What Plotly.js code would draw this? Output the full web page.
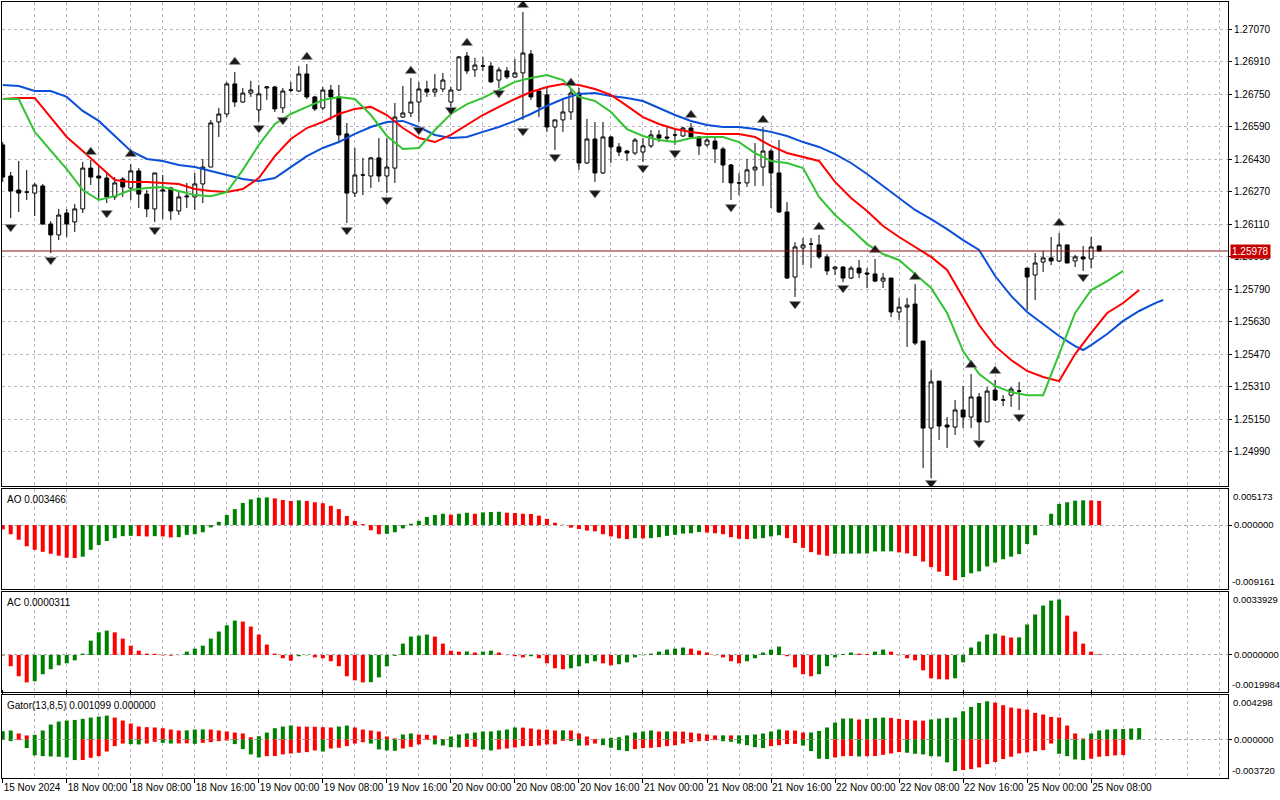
<!DOCTYPE html>
<html>
<head>
<meta charset="utf-8">
<script src="https://cdn.plot.ly/plotly-3.0.1.min.js"></script>
<style>html,body{margin:0;padding:0;background:#fff;}#chart{width:1280px;height:800px;}</style>
</head>
<body>
<div id="chart"></div>
<script>
// ---------- DATA ----------
const tickIdx = [0,8,16,24,32,40,48,56,64,72,80,88,96,104,112,120,128,136];
const tickLabels = ["15 Nov 2024","18 Nov 00:00","18 Nov 08:00","18 Nov 16:00","19 Nov 00:00","19 Nov 08:00","19 Nov 16:00","20 Nov 00:00","20 Nov 08:00","20 Nov 16:00","21 Nov 00:00","21 Nov 08:00","21 Nov 16:00","22 Nov 00:00","22 Nov 08:00","22 Nov 16:00","25 Nov 00:00","25 Nov 08:00"];
const priceTicks = [1.24990,1.25150,1.25310,1.25470,1.25630,1.25790,1.25950,1.26110,1.26270,1.26430,1.26590,1.26750,1.26910,1.27070];
const priceRange = [1.24822, 1.27203];
const lastPrice = 1.25978;

const open = [
1.26500,1.26347,1.26278,1.26268,1.26263,1.26298,1.26111,1.26057,1.26165,1.26121,
1.26185,1.26386,1.26347,1.26337,1.26244,1.26332,1.26288,1.26372,1.26258,1.26185,
1.26273,1.26288,1.26175,1.26244,1.26244,1.26308,1.26391,1.26613,1.26652,1.26800,
1.26711,1.26755,1.26672,1.26780,1.26785,1.26682,1.26770,1.26765,1.26849,1.26736,
1.26682,1.26770,1.26736,1.26554,1.26263,1.26352,1.26347,1.26436,1.26347,1.26386,
1.26637,1.26657,1.26711,1.26775,1.26760,1.26775,1.26711,1.26770,1.26937,1.26869,
1.26888,1.26888,1.26819,1.26864,1.26834,1.26854,1.26947,1.26765,1.26746,1.26588,
1.26623,1.26662,1.26755,1.26411,1.26529,1.26362,1.26539,1.26490,1.26470,1.26460,
1.26465,1.26495,1.26549,1.26539,1.26549,1.26544,1.26583,1.26539,1.26500,1.26519,
1.26480,1.26401,1.26313,1.26313,1.26377,1.26391,1.26470,1.26362,1.26170,1.25850,
1.25993,1.26012,1.26008,1.25949,1.25890,1.25899,1.25845,1.25894,1.25870,1.25865,
1.25830,1.25845,1.25678,1.25702,1.25717,1.25535,1.25107,1.25338,1.25122,1.25112,
1.25196,1.25161,1.25260,1.25137,1.25294,1.25245,1.25269,1.25289,1.25894,1.25860,
1.25924,1.25944,1.25929,1.26008,1.25929,1.25949,1.25939,1.26003];
const high = [
1.26514,1.26367,1.26421,1.26377,1.26313,1.26308,1.26125,1.26185,1.26185,1.26209,
1.26416,1.26426,1.26401,1.26367,1.26342,1.26342,1.26406,1.26386,1.26278,1.26362,
1.26352,1.26293,1.26268,1.26313,1.26362,1.26431,1.26623,1.26682,1.26810,1.26859,
1.26780,1.26815,1.26795,1.26790,1.26790,1.26780,1.26810,1.26888,1.26898,1.26741,
1.26785,1.26795,1.26795,1.26608,1.26485,1.26436,1.26441,1.26534,1.26534,1.26706,
1.26790,1.26829,1.26810,1.26815,1.26849,1.26854,1.26785,1.26937,1.26957,1.26928,
1.26933,1.26908,1.26883,1.26883,1.26923,1.27154,1.26967,1.26775,1.26785,1.26623,
1.26731,1.26780,1.26780,1.26628,1.26613,1.26613,1.26544,1.26509,1.26475,1.26534,
1.26534,1.26573,1.26573,1.26588,1.26573,1.26588,1.26608,1.26544,1.26539,1.26534,
1.26490,1.26406,1.26362,1.26431,1.26509,1.26588,1.26480,1.26524,1.26219,1.26022,
1.26042,1.26042,1.26057,1.25963,1.25904,1.25904,1.25904,1.25934,1.25894,1.25939,
1.25870,1.25845,1.25747,1.25747,1.25816,1.25535,1.25393,1.25338,1.25161,1.25245,
1.25314,1.25373,1.25279,1.25309,1.25343,1.25269,1.25309,1.25334,1.25894,1.25968,
1.25978,1.26047,1.26067,1.26008,1.25959,1.26003,1.26047,1.26003];
const low = [
1.26318,1.26140,1.26170,1.26229,1.26150,1.26106,1.25968,1.26032,1.26047,1.26072,
1.26165,1.26303,1.26234,1.26214,1.26229,1.26244,1.26229,1.26189,1.26145,1.26121,
1.26135,1.26130,1.26155,1.26189,1.26180,1.26214,1.26391,1.26539,1.26637,1.26687,
1.26706,1.26736,1.26613,1.26721,1.26662,1.26657,1.26760,1.26760,1.26726,1.26667,
1.26672,1.26623,1.26509,1.26116,1.26244,1.26253,1.26288,1.26318,1.26263,1.26313,
1.26633,1.26637,1.26613,1.26736,1.26736,1.26760,1.26687,1.26765,1.26849,1.26834,
1.26864,1.26805,1.26780,1.26824,1.26829,1.26623,1.26721,1.26637,1.26564,1.26475,
1.26564,1.26623,1.26377,1.26406,1.26318,1.26357,1.26411,1.26445,1.26421,1.26450,
1.26416,1.26485,1.26514,1.26514,1.26500,1.26539,1.26529,1.26450,1.26490,1.26411,
1.26313,1.26229,1.26253,1.26293,1.26298,1.26298,1.26189,1.26165,1.25840,1.25752,
1.25909,1.25894,1.25939,1.25860,1.25860,1.25825,1.25840,1.25845,1.25796,1.25825,
1.25796,1.25653,1.25639,1.25506,1.25515,1.24910,1.24861,1.25048,1.25009,1.25073,
1.25107,1.25107,1.25048,1.25137,1.25240,1.25215,1.25211,1.25196,1.25688,1.25737,
1.25875,1.25909,1.25924,1.25919,1.25899,1.25880,1.25894,1.25973];
const close = [
1.26342,1.26273,1.26263,1.26268,1.26303,1.26111,1.26057,1.26155,1.26111,1.26185,
1.26386,1.26342,1.26337,1.26244,1.26313,1.26293,1.26372,1.26258,1.26185,1.26362,
1.26278,1.26175,1.26244,1.26248,1.26308,1.26391,1.26608,1.26652,1.26800,1.26711,
1.26755,1.26770,1.26751,1.26785,1.26677,1.26765,1.26770,1.26849,1.26736,1.26677,
1.26770,1.26736,1.26549,1.26263,1.26352,1.26352,1.26436,1.26347,1.26391,1.26637,
1.26657,1.26711,1.26775,1.26760,1.26775,1.26819,1.26770,1.26933,1.26864,1.26893,
1.26888,1.26810,1.26869,1.26834,1.26854,1.26952,1.26736,1.26687,1.26588,1.26623,
1.26662,1.26755,1.26411,1.26529,1.26362,1.26539,1.26490,1.26465,1.26460,1.26524,
1.26495,1.26549,1.26534,1.26534,1.26549,1.26583,1.26539,1.26495,1.26524,1.26480,
1.26401,1.26313,1.26313,1.26377,1.26391,1.26470,1.26362,1.26170,1.25845,1.25998,
1.26008,1.26012,1.25949,1.25880,1.25899,1.25845,1.25894,1.25870,1.25865,1.25830,
1.25845,1.25678,1.25702,1.25712,1.25525,1.25107,1.25334,1.25117,1.25112,1.25196,
1.25161,1.25260,1.25137,1.25289,1.25245,1.25245,1.25299,1.25289,1.25850,1.25919,
1.25944,1.25929,1.26008,1.25919,1.25949,1.25939,1.25998,1.25978];

// Alligator (shifted forward): jaw (blue), teeth (red), lips (green)
const jawIdx = [0,2,4,6,8,10,12,14,16,18,20,22,24,26,28,30,32,34,36,38,40,42,44,46,48,50,52,54,56,58,60,62,64,66,68,70,72,74,76,78,80,82,84,86,88,90,92,94,96,98,100,102,104,106,108,110,112,114,116,118,120,122,124,126,128,130,132,134,135,136,138,140,142,144,145];
const jaw = [1.26795,1.26790,1.26765,1.26765,1.26736,1.26667,1.26618,1.26544,1.26470,1.26431,1.26421,1.26401,1.26391,1.26372,1.26352,1.26332,1.26322,1.26337,1.26391,1.26445,1.26485,1.26514,1.26554,1.26588,1.26613,1.26618,1.26588,1.26549,1.26534,1.26539,1.26564,1.26588,1.26618,1.26652,1.26692,1.26726,1.26751,1.26755,1.26741,1.26731,1.26716,1.26682,1.26647,1.26618,1.26598,1.26588,1.26588,1.26578,1.26564,1.26544,1.26514,1.26490,1.26455,1.26411,1.26357,1.26298,1.26239,1.26180,1.26135,1.26086,1.26032,1.25983,1.25855,1.25757,1.25678,1.25619,1.25560,1.25510,1.25491,1.25515,1.25570,1.25634,1.25683,1.25722,1.25737];
const teethIdx = [0,2,4,6,8,10,12,14,16,18,20,22,24,26,28,30,32,34,36,38,40,42,44,46,48,50,52,54,56,58,60,62,64,66,68,70,72,74,76,78,80,82,84,86,88,90,92,94,96,98,100,102,104,106,108,110,112,114,116,118,120,122,124,126,128,130,132,134,136,138,140,142];
const teeth = [1.26726,1.26731,1.26731,1.26637,1.26539,1.26470,1.26396,1.26327,1.26318,1.26318,1.26313,1.26308,1.26283,1.26273,1.26268,1.26283,1.26337,1.26445,1.26529,1.26583,1.26613,1.26652,1.26677,1.26687,1.26647,1.26583,1.26534,1.26514,1.26549,1.26598,1.26647,1.26687,1.26726,1.26760,1.26785,1.26800,1.26795,1.26775,1.26746,1.26692,1.26637,1.26603,1.26578,1.26564,1.26554,1.26554,1.26554,1.26539,1.26495,1.26460,1.26441,1.26421,1.26318,1.26239,1.26175,1.26101,1.26047,1.25998,1.25949,1.25885,1.25752,1.25614,1.25510,1.25442,1.25388,1.25358,1.25338,1.25471,1.25575,1.25673,1.25722,1.25786];
const lipsIdx = [0,2,4,6,8,10,12,14,16,18,20,22,24,26,28,30,32,34,36,38,40,42,44,46,48,50,52,54,56,58,60,62,64,66,68,70,72,74,76,78,80,82,84,86,88,90,92,94,96,98,100,102,104,106,108,110,112,114,116,118,120,122,124,126,128,130,132,134,136,138,140];
const lips = [1.26726,1.26726,1.26564,1.26475,1.26381,1.26278,1.26229,1.26248,1.26278,1.26288,1.26293,1.26273,1.26253,1.26248,1.26268,1.26377,1.26500,1.26603,1.26652,1.26687,1.26721,1.26736,1.26726,1.26647,1.26544,1.26480,1.26485,1.26573,1.26652,1.26701,1.26731,1.26770,1.26810,1.26829,1.26844,1.26819,1.26736,1.26716,1.26662,1.26578,1.26544,1.26524,1.26514,1.26534,1.26539,1.26539,1.26514,1.26460,1.26421,1.26411,1.26386,1.26244,1.26155,1.26086,1.26012,1.25963,1.25934,1.25865,1.25796,1.25673,1.25486,1.25373,1.25314,1.25284,1.25269,1.25269,1.25476,1.25673,1.25786,1.25830,1.25880];

// Fractals
const fracUpIdx = [11,16,29,38,51,58,65,71,86,95,102,109,114,121,124,132];
const fracUp = [1.26465,1.26455,1.26908,1.26933,1.26864,1.27001,1.27188,1.26805,1.26647,1.26623,1.26096,1.25983,1.25850,1.25417,1.25388,1.26116];
const fracDnIdx = [1,6,13,19,32,35,43,48,52,56,62,65,69,74,80,84,91,99,105,116,122,127,135];
const fracDn = [1.26096,1.25934,1.26165,1.26081,1.26583,1.26623,1.26081,1.26229,1.26573,1.26672,1.26755,1.26568,1.26441,1.26263,1.26386,1.26460,1.26194,1.25717,1.25796,1.24837,1.25033,1.25161,1.25850];

// Awesome Oscillator
const aoRange = [-0.009161, 0.005173];
const ao = [
-0.00061,-0.00131,-0.00210,-0.00304,-0.00355,-0.00383,-0.00411,-0.00439,-0.00467,-0.00472,
-0.00453,-0.00355,-0.00285,-0.00229,-0.00187,-0.00159,-0.00154,-0.00159,-0.00163,-0.00159,
-0.00163,-0.00177,-0.00173,-0.00140,-0.00131,-0.00103,-0.00033,0.00047,0.00145,0.00229,
0.00318,0.00369,0.00392,0.00397,0.00383,0.00360,0.00346,0.00355,0.00346,0.00327,
0.00313,0.00276,0.00229,0.00131,0.00061,0.00014,-0.00075,-0.00131,-0.00126,-0.00103,
-0.00047,0.00019,0.00061,0.00117,0.00145,0.00163,0.00149,0.00163,0.00177,0.00163,
0.00182,0.00187,0.00191,0.00177,0.00173,0.00163,0.00159,0.00135,0.00089,0.00033,
0.00005,-0.00037,-0.00056,-0.00079,-0.00089,-0.00131,-0.00163,-0.00191,-0.00201,-0.00187,
-0.00191,-0.00187,-0.00173,-0.00154,-0.00140,-0.00121,-0.00117,-0.00098,-0.00107,-0.00117,
-0.00131,-0.00173,-0.00196,-0.00201,-0.00196,-0.00187,-0.00163,-0.00145,-0.00187,-0.00257,
-0.00327,-0.00388,-0.00425,-0.00439,-0.00411,-0.00410,-0.00409,-0.00408,-0.00407,-0.00378,
-0.00377,-0.00376,-0.00392,-0.00406,-0.00444,-0.00523,-0.00602,-0.00668,-0.00729,-0.00789,
-0.00747,-0.00691,-0.00663,-0.00593,-0.00537,-0.00490,-0.00453,-0.00416,-0.00271,-0.00145,
0.00002,0.00163,0.00304,0.00327,0.00350,0.00355,0.00354,0.003466];

// Accelerator Oscillator
const acRange = [-0.0019984, 0.0033929];
const ac = [
-0.00003,-0.00061,-0.00115,-0.00148,-0.00142,-0.00104,-0.00077,-0.00056,-0.00045,-0.00029,
0.00007,0.00077,0.00122,0.00131,0.00122,0.00088,0.00050,0.00023,0.00007,0.00006,
-0.00003,-0.00004,-0.00001,0.00018,0.00034,0.00050,0.00088,0.00126,0.00160,0.00185,
0.00180,0.00153,0.00110,0.00056,0.00007,-0.00018,-0.00031,-0.00007,-0.00002,-0.00013,
-0.00018,-0.00034,-0.00061,-0.00115,-0.00137,-0.00148,-0.00147,-0.00121,-0.00061,-0.00005,
0.00061,0.00099,0.00104,0.00110,0.00099,0.00061,0.00023,0.00018,0.00019,0.00013,
0.00018,0.00023,0.00013,-0.00001,-0.00007,-0.00013,-0.00007,-0.00018,-0.00045,-0.00072,
-0.00077,-0.00072,-0.00061,-0.00045,-0.00034,-0.00045,-0.00056,-0.00050,-0.00040,-0.00013,
-0.00002,0.00007,0.00018,0.00029,0.00034,0.00040,0.00034,0.00023,0.00013,-0.00002,
-0.00013,-0.00034,-0.00045,-0.00034,-0.00018,0.00013,0.00029,0.00045,-0.00007,-0.00067,
-0.00104,-0.00115,-0.00104,-0.00061,-0.00013,0.00005,0.00013,0.00007,0.00005,0.00018,
0.00029,0.00018,-0.00002,-0.00018,-0.00029,-0.00083,-0.00126,-0.00131,-0.00132,-0.00126,
-0.00040,0.00040,0.00072,0.00110,0.00115,0.00104,0.00094,0.00095,0.00164,0.00218,
0.00266,0.00293,0.00299,0.00212,0.00126,0.00061,0.00018,0.0000311];

// Gator oscillator
const gatorRange = [-0.003720, 0.004298];
const gatorUp = [
0.00080,0.00087,0.00058,0.00039,0.00045,0.00087,0.00144,0.00173,0.00183,0.00189,
0.00199,0.00212,0.00221,0.00231,0.00212,0.00183,0.00154,0.00125,0.00119,0.00116,
0.00109,0.00096,0.00087,0.00088,0.00096,0.00097,0.00096,0.00087,0.00077,0.00067,
0.00058,0.00022,0.00032,0.00067,0.00109,0.00125,0.00135,0.00125,0.00124,0.00123,
0.00119,0.00116,0.00125,0.00135,0.00116,0.00096,0.00087,0.00077,0.00029,0.00010,
0.00048,0.00058,0.00048,0.00045,0.00039,0.00005,0.00029,0.00048,0.00058,0.00067,
0.00077,0.00078,0.00087,0.00096,0.00116,0.00115,0.00106,0.00096,0.00095,0.00087,
0.00088,0.00087,0.00058,0.00029,0.00006,0.00010,0.00016,0.00022,0.00039,0.00067,
0.00077,0.00087,0.00077,0.00078,0.00077,0.00076,0.00067,0.00058,0.00048,0.00039,
0.00040,0.00039,0.00040,0.00042,0.00048,0.00058,0.00077,0.00096,0.00087,0.00086,
0.00067,0.00068,0.00083,0.00116,0.00164,0.00202,0.00203,0.00193,0.00199,0.00209,
0.00212,0.00209,0.00199,0.00189,0.00183,0.00182,0.00193,0.00202,0.00209,0.00212,
0.00273,0.00315,0.00353,0.00369,0.00356,0.00331,0.00308,0.00299,0.00289,0.00257,
0.00241,0.00218,0.00212,0.00135,0.00058,0.00010,0.00058,0.00087,0.00096,0.00100,
0.00101,0.00106,0.001099];
const gatorDn = [
-0.00002,-0.00016,-0.00006,-0.00083,-0.00154,-0.00161,-0.00164,-0.00167,-0.00173,-0.00199,
-0.00198,-0.00177,-0.00161,-0.00116,-0.00064,-0.00039,-0.00045,-0.00048,-0.00039,-0.00022,
-0.00032,-0.00039,-0.00038,-0.00037,-0.00042,-0.00032,-0.00026,-0.00016,-0.00010,-0.00045,
-0.00093,-0.00144,-0.00173,-0.00161,-0.00160,-0.00144,-0.00135,-0.00128,-0.00122,-0.00106,
-0.00116,-0.00087,-0.00080,-0.00064,-0.00039,-0.00026,-0.00039,-0.00096,-0.00106,-0.00109,
-0.00087,-0.00071,-0.00048,-0.00003,-0.00048,-0.00058,-0.00074,-0.00077,-0.00071,-0.00070,
-0.00096,-0.00106,-0.00096,-0.00087,-0.00077,-0.00064,-0.00063,-0.00058,-0.00048,-0.00047,
-0.00013,-0.00016,-0.00058,-0.00057,-0.00039,-0.00055,-0.00080,-0.00103,-0.00112,-0.00093,
-0.00083,-0.00080,-0.00074,-0.00064,-0.00055,-0.00039,-0.00026,-0.00016,-0.00015,-0.00006,
-0.00016,-0.00022,-0.00039,-0.00055,-0.00074,-0.00083,-0.00064,-0.00055,-0.00045,-0.00042,
-0.00058,-0.00112,-0.00186,-0.00189,-0.00173,-0.00161,-0.00160,-0.00164,-0.00162,-0.00160,
-0.00148,-0.00135,-0.00122,-0.00128,-0.00138,-0.00144,-0.00161,-0.00164,-0.00221,-0.00305,
-0.00295,-0.00286,-0.00270,-0.00238,-0.00218,-0.00189,-0.00167,-0.00135,-0.00125,-0.00112,
-0.00103,-0.00039,-0.00138,-0.00161,-0.00193,-0.00199,-0.00186,-0.00167,-0.00161,-0.00154,
-0.00151];

// ---------- BUILD ----------
const GREEN = '#008000', RED = '#ff0000';
const GRID = '#bdb6c6';
const DASH = '3px,3px';
const idx = n => Array.from({length: n}, (_, i) => i);
function trendColors(arr, first, useAbs) {
  return arr.map((v, i) => {
    if (i === 0) return first;
    const a = useAbs ? Math.abs(v) : v, b = useAbs ? Math.abs(arr[i-1]) : arr[i-1];
    return a > b ? GREEN : RED;
  });
}
const bars = open.length;

const traces = [
  {type: 'candlestick', x: idx(bars), open: open, high: high, low: low, close: close,
   xaxis: 'x', yaxis: 'y', whiskerwidth: 0,
   increasing: {line: {color: '#000', width: 1}, fillcolor: '#ffffff'},
   decreasing: {line: {color: '#000', width: 1}, fillcolor: '#000000'},
   hoverinfo: 'skip'},
  {type: 'scatter', mode: 'lines', x: jawIdx, y: jaw, xaxis: 'x', yaxis: 'y', line: {color: '#0a4fd8', width: 2}, hoverinfo: 'skip'},
  {type: 'scatter', mode: 'lines', x: teethIdx, y: teeth, xaxis: 'x', yaxis: 'y', line: {color: '#ff0000', width: 2}, hoverinfo: 'skip'},
  {type: 'scatter', mode: 'lines', x: lipsIdx, y: lips, xaxis: 'x', yaxis: 'y', line: {color: '#33c433', width: 2}, hoverinfo: 'skip'},
  {type: 'scatter', mode: 'markers', x: fracUpIdx, y: fracUp, xaxis: 'x', yaxis: 'y',
   marker: {symbol: 'triangle-up', size: 10, color: '#1a1a1a', line: {color: '#9a9a9a', width: 0.6}}, hoverinfo: 'skip'},
  {type: 'scatter', mode: 'markers', x: fracDnIdx, y: fracDn, xaxis: 'x', yaxis: 'y',
   marker: {symbol: 'triangle-down', size: 10, color: '#1a1a1a', line: {color: '#9a9a9a', width: 0.6}}, hoverinfo: 'skip'},
  {type: 'bar', x: idx(ao.length), y: ao, xaxis: 'x', yaxis: 'y2', width: 0.5,
   marker: {color: trendColors(ao, RED, false), line: {width: 0}}, hoverinfo: 'skip'},
  {type: 'bar', x: idx(ac.length), y: ac, xaxis: 'x', yaxis: 'y3', width: 0.5,
   marker: {color: trendColors(ac, RED, false), line: {width: 0}}, hoverinfo: 'skip'},
  {type: 'bar', x: idx(gatorUp.length), y: gatorUp, xaxis: 'x', yaxis: 'y4', width: 0.5,
   marker: {color: trendColors(gatorUp, GREEN, false), line: {width: 0}}, hoverinfo: 'skip'},
  {type: 'bar', x: idx(gatorDn.length), y: gatorDn, xaxis: 'x', yaxis: 'y4', width: 0.5,
   marker: {color: trendColors(gatorDn, GREEN, true), line: {width: 0}}, hoverinfo: 'skip'}
];

const font = {family: 'Liberation Sans, Arial, sans-serif', size: 10, color: '#000'};
const xfont = {family: 'Liberation Sans, Arial, sans-serif', size: 10, color: '#000'};
const rfont = {family: 'Liberation Sans, Arial, sans-serif', size: 9.5, color: '#000'};
const yCommon = {side: 'right', anchor: 'x', showline: true, mirror: true, linecolor: '#000', linewidth: 1,
  ticks: 'outside', ticklen: 3, tickcolor: '#000', zeroline: false, fixedrange: true,
  showgrid: true, gridcolor: GRID, griddash: DASH, gridwidth: 1, tickfont: font};

const layout = {
  width: 1280, height: 800,
  margin: {l: 2, r: 52, t: 2, b: 22},
  paper_bgcolor: '#fff', plot_bgcolor: '#fff',
  showlegend: false, barmode: 'overlay', font: font,
  xaxis: {anchor: 'y4', range: [-0.09, 153.1], showline: true, mirror: 'all', linecolor: '#000', linewidth: 1,
    tickmode: 'array', tickvals: tickIdx, ticktext: tickLabels, ticklabelposition: 'outside right',
    tickangle: 0, ticks: 'outside', ticklen: 4, tickcolor: '#000', tickfont: xfont,
    showgrid: true, gridcolor: GRID, griddash: DASH, zeroline: false,
    minor: {dtick: 4, tick0: 0, showgrid: true, gridcolor: GRID, griddash: DASH, ticks: ''},
    rangeslider: {visible: false}, fixedrange: true},
  yaxis: Object.assign({}, yCommon, {domain: [0.37629, 1], range: priceRange, tickmode: 'array',
    tickvals: priceTicks, ticktext: priceTicks.map(v => v.toFixed(5))}),
  yaxis2: Object.assign({}, yCommon, {domain: [0.24356, 0.37242], range: aoRange, tickmode: 'array',
    tickvals: [0], ticktext: [(0).toFixed(6)], griddash: 'dot', gridcolor: '#a8a8a8', tickfont: rfont}),
  yaxis3: Object.assign({}, yCommon, {domain: [0.11082, 0.23969], range: acRange, tickmode: 'array',
    tickvals: [0], ticktext: [(0).toFixed(7)], griddash: 'dot', gridcolor: '#a8a8a8', tickfont: rfont}),
  yaxis4: Object.assign({}, yCommon, {domain: [0, 0.10696], range: gatorRange, tickmode: 'array',
    tickvals: [0], ticktext: [(0).toFixed(6)], griddash: 'dot', gridcolor: '#a8a8a8', tickfont: rfont}),
  shapes: [
    {type: 'line', xref: 'x domain', yref: 'y', x0: 0, x1: 1, y0: lastPrice, y1: lastPrice,
     line: {color: '#8c1010', width: 1}}
  ],
  annotations: []
};

const ann = layout.annotations;
// last price tag
ann.push({xref: 'paper', yref: 'y', x: 1, y: lastPrice, xanchor: 'left', yanchor: 'middle', xshift: 2,
  text: lastPrice.toFixed(5), showarrow: false, bgcolor: '#c80000', font: {family: font.family, size: 10, color: '#fff'}, borderpad: 1});
// indicator headers
const headers = [
  ['y2', 'AO ' + ao[ao.length-1].toFixed(6)],
  ['y3', 'AC ' + ac[ac.length-1].toFixed(7)],
  ['y4', 'Gator(13,8,5) ' + gatorUp[gatorUp.length-1].toFixed(6) + ' ' + (0).toFixed(6)]
];
headers.forEach(h => ann.push({xref: 'paper', yref: h[0] + ' domain', x: 0, y: 1, xanchor: 'left', yanchor: 'top',
  xshift: 3, yshift: -3, text: h[1], showarrow: false, font: font}));
// indicator max/min labels
[['y2', aoRange, 6], ['y3', acRange, 7], ['y4', gatorRange, 6]].forEach(r => {
  ann.push({xref: 'paper', yref: r[0] + ' domain', x: 1, y: 1, xanchor: 'left', yanchor: 'top', xshift: 3,
    text: r[1][1].toFixed(r[2]), showarrow: false, font: rfont});
  ann.push({xref: 'paper', yref: r[0] + ' domain', x: 1, y: 0, xanchor: 'left', yanchor: 'bottom', xshift: 2,
    text: r[1][0].toFixed(r[2]), showarrow: false, font: rfont});
});

Plotly.newPlot('chart', traces, layout, {staticPlot: true, displayModeBar: false});
</script>
</body>
</html>
